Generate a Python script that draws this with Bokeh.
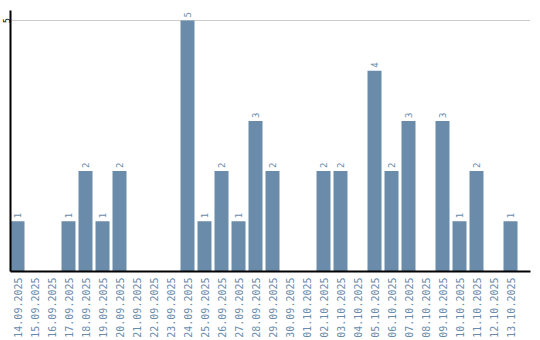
import math
from bokeh.plotting import figure
from bokeh.models import Range1d, FixedTicker, ColumnDataSource
from bokeh.core.properties import value
from bokeh.embed import file_html
from bokeh.resources import INLINE

dates = ["14.09.2025", "15.09.2025", "16.09.2025", "17.09.2025", "18.09.2025",
         "19.09.2025", "20.09.2025", "21.09.2025", "22.09.2025", "23.09.2025",
         "24.09.2025", "25.09.2025", "26.09.2025", "27.09.2025", "28.09.2025",
         "29.09.2025", "30.09.2025", "01.10.2025", "02.10.2025", "03.10.2025",
         "04.10.2025", "05.10.2025", "06.10.2025", "07.10.2025", "08.10.2025",
         "09.10.2025", "10.10.2025", "11.10.2025", "12.10.2025", "13.10.2025"]
counts = [1, 0, 0, 1, 2, 1, 2, 0, 0, 0,
          5, 1, 2, 1, 3, 2, 0, 0, 2, 2,
          0, 4, 2, 3, 0, 3, 1, 2, 0, 1]
y_ticks = [5]

BAR = "#6a8baa"
LBL = "#6a8baa"
FONT = "DejaVu Sans Mono"

slot = 17.0
barw = 14.0 / slot
idx = list(range(len(dates)))
lefts = [i for i in idx]
rights = [i + barw for i in idx]
centers = [i + barw / 2 for i in idx]

p = figure(width=540, height=340, output_backend="svg", toolbar_location=None,
           x_range=Range1d(0, 520 / slot), y_range=Range1d(0, 5.2),
           min_border_left=0, min_border_right=10, min_border_top=10,
           min_border_bottom=0)
p.outline_line_color = None
p.background_fill_color = "white"
p.xgrid.visible = False
p.ygrid.ticker = FixedTicker(ticks=y_ticks)
p.ygrid.grid_line_color = "#cccccc"
p.ygrid.grid_line_width = 1

src = ColumnDataSource(dict(left=lefts, right=rights, top=counts, x=centers,
                            lab=[str(c) if c > 0 else "" for c in counts]))
p.quad(left="left", right="right", bottom=0, top="top", source=src,
       fill_color=BAR, line_color=None)
p.text(x="x", y="top", text="lab", source=src, angle=math.pi / 2,
       text_align="left", text_baseline="middle", y_offset=-3,
       text_font=value(FONT), text_font_size="9px", text_color=LBL)

xa = p.xaxis[0]
xa.ticker = FixedTicker(ticks=centers)
xa.major_label_overrides = {c: d for c, d in zip(centers, dates)}
xa.major_label_orientation = math.pi / 2
xa.major_tick_line_color = None
xa.minor_tick_line_color = None
xa.major_tick_out = 0
xa.major_tick_in = 0
xa.major_label_standoff = 6
xa.major_label_text_font = FONT
xa.major_label_text_font_size = "10px"
xa.major_label_text_color = LBL
xa.axis_line_color = "black"
xa.axis_line_width = 2

ya = p.yaxis[0]
ya.ticker = FixedTicker(ticks=y_ticks)
ya.major_label_orientation = "vertical"
ya.major_tick_line_color = None
ya.minor_tick_line_color = None
ya.major_tick_out = 0
ya.major_tick_in = 0
ya.major_label_standoff = 0
ya.major_label_text_font = FONT
ya.major_label_text_font_size = "8px"
ya.major_label_text_color = "black"
ya.axis_line_color = "black"
ya.axis_line_width = 2

open("out.html", "w").write(file_html(p, INLINE))
